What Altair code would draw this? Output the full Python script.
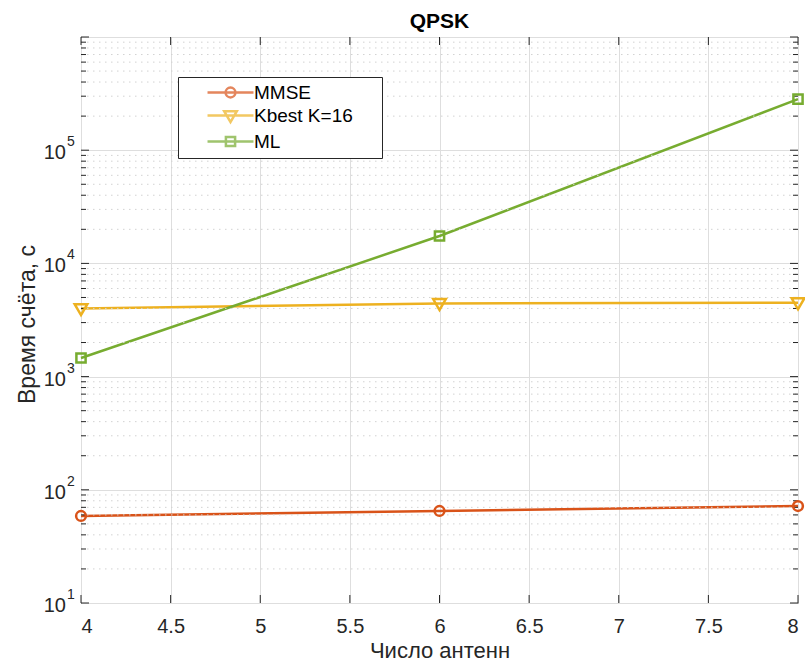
import altair as alt
import pandas as pd

# ---------------- data ----------------
antennas = [4, 6, 8]
mmse = [58.7, 65.0, 71.9]
kbest = [4000, 4430, 4500]
ml = [1460, 17460, 283000]

series_names = ["MMSE", "Kbest K=16", "ML"]
series_colors = ["#D95319", "#EDB120", "#77AC30"]

x_ticks = [4, 4.5, 5, 5.5, 6, 6.5, 7, 7.5, 8]
y_major = [10, 100, 1000, 10000, 100000, 1000000]
y_minor = [m * 10 ** k for k in range(1, 6) for m in range(2, 10)]
y_label_values = [10, 100, 1000, 10000, 100000]
y_label_base = ["10", "10", "10", "10", "10"]
y_label_exp = ["1", "2", "3", "4", "5"]

# marker shapes (unit paths) and legend symbols (line through marker)
marker_paths = [
    "M-0.85,0A0.85,0.85 0 1,0 0.85,0A0.85,0.85 0 1,0 -0.85,0Z",
    "M-1.1,-0.75L1.1,-0.75L0,1.15Z",
    "M-0.8,-0.8H0.8V0.8H-0.8Z",
]
legend_paths = [
    "M-4,0H4M-0.85,0A0.85,0.85 0 1,0 0.85,0A0.85,0.85 0 1,0 -0.85,0Z",
    "M-4,0H4M-1.1,-0.75L1.1,-0.75L0,1.15Z",
    "M-4,0H4M-0.8,-0.8H0.8V0.8H-0.8Z",
]

W, H = 717, 566
FONT = "Liberation Sans"
AX = "#262626"

rows = []
for name, vals in zip(series_names, [mmse, kbest, ml]):
    for a, v in zip(antennas, vals):
        rows.append({"antennas": a, "time": v, "series": name, "lseries": name})
df = pd.DataFrame(rows)

xscale = alt.Scale(domain=[4, 8], nice=False, zero=False)
yscale = alt.Scale(type="log", domain=[10, 1000000], nice=False)
cscale = alt.Scale(domain=series_names, range=series_colors)

x_axis = alt.Axis(
    values=x_ticks, grid=True, gridColor="#dedede", ticks=False, domain=False,
    labelFontSize=20, labelFont=FONT, labelColor=AX, labelPadding=13, format="~g",
    title="Число антенн", titleFontSize=22, titleFont=FONT, titleFontWeight="normal",
    titleColor=AX, titleY=47, titleBaseline="middle",
)
y_axis = alt.Axis(
    values=y_major, grid=True, gridColor="#dedede", ticks=False, domain=False,
    labels=False, title="Время счёта, с", titleFontSize=23, titleFont=FONT,
    titleFontWeight="normal", titleColor=AX, titleX=-54, titleY=H / 2 + 4,
    titleAngle=270, titleBaseline="middle",
)


def X(field):
    return alt.X(field, scale=xscale, axis=x_axis, title="Число антенн")


def Y(field):
    return alt.Y(field, scale=yscale, axis=y_axis, title="Время счёта, с")


base = alt.Chart(df)

lines = base.mark_line(strokeWidth=2.5).encode(
    x=X("antennas:Q"),
    y=Y("time:Q"),
    color=alt.Color("series:N", scale=cscale, legend=None),
    detail="series:N",
)

points = base.mark_point(filled=False, strokeWidth=2.5, size=132, opacity=1).encode(
    x=X("antennas:Q"),
    y=Y("time:Q"),
    color=alt.Color("series:N", scale=cscale, legend=None),
    shape=alt.Shape("series:N", scale=alt.Scale(domain=series_names, range=marker_paths), legend=None),
)

leg = alt.Legend(
    orient="none", legendX=97, legendY=40, title=None,
    labelFontSize=19, labelFont=FONT, labelColor="#000000",
    strokeColor=AX, fillColor="white", padding=6, rowPadding=3,
    symbolSize=132, symbolStrokeWidth=2.5, symbolOffset=37, labelOffset=14,
    labelExpr="datum.label + '\u2003\u2009\u200b'",
)
legend_layer = base.mark_point(filled=False, strokeWidth=2.5, size=132).encode(
    color=alt.Color("lseries:N", scale=alt.Scale(domain=series_names, range=series_colors), legend=leg),
    shape=alt.Shape("lseries:N", scale=alt.Scale(domain=series_names, range=legend_paths), legend=leg),
).transform_filter("false")

# minor grid (dotted)
minor_df = pd.DataFrame({"v": y_minor})
minor_grid = alt.Chart(minor_df).mark_rule(color="#d2d2d2", strokeWidth=1, strokeDash=[1.5, 4.5]).encode(
    y=Y("v:Q"), x=alt.value(0), x2=alt.value(W)
)

# inward ticks on all four sides
major_y_df = pd.DataFrame({"v": y_major})
xt_df = pd.DataFrame({"v": x_ticks})
TM, Tm = 8, 5
ticks = [
    alt.Chart(major_y_df).mark_rule(color=AX).encode(y=Y("v:Q"), x=alt.value(0), x2=alt.value(TM)),
    alt.Chart(major_y_df).mark_rule(color=AX).encode(y=Y("v:Q"), x=alt.value(W), x2=alt.value(W - TM)),
    alt.Chart(minor_df).mark_rule(color=AX).encode(y=Y("v:Q"), x=alt.value(0), x2=alt.value(Tm)),
    alt.Chart(minor_df).mark_rule(color=AX).encode(y=Y("v:Q"), x=alt.value(W), x2=alt.value(W - Tm)),
    alt.Chart(xt_df).mark_rule(color=AX).encode(x=X("v:Q"), y=alt.value(H), y2=alt.value(H - TM)),
    alt.Chart(xt_df).mark_rule(color=AX).encode(x=X("v:Q"), y=alt.value(0), y2=alt.value(TM)),
]

# y tick labels 10^k
lab_df = pd.DataFrame({"v": y_label_values, "base": y_label_base, "exp": y_label_exp})
lab_base = alt.Chart(lab_df).mark_text(align="right", baseline="middle", fontSize=20, font=FONT, color=AX, dx=-15, dy=3).encode(
    y=Y("v:Q"), x=alt.value(0), text="base:N"
)
lab_exp = alt.Chart(lab_df).mark_text(align="left", baseline="middle", fontSize=14, font=FONT, color=AX, dx=-14, dy=-8).encode(
    y=Y("v:Q"), x=alt.value(0), text="exp:N"
)

chart = alt.layer(
    lines, minor_grid, *ticks, lab_base, lab_exp, points, legend_layer
).resolve_scale(
    color="independent", shape="independent"
).properties(
    width=W,
    height=H,
    padding={"left": 81, "top": 37, "right": 7, "bottom": 62},
    autosize=alt.AutoSizeParams(type="none"),
    title=alt.TitleParams("QPSK", fontSize=21, fontWeight="bold", font=FONT, color="#000000", anchor="middle", offset=5),
).configure_view(stroke=AX, strokeWidth=1)

chart.save("out.html", embed_options={"renderer": "svg", "actions": False})
